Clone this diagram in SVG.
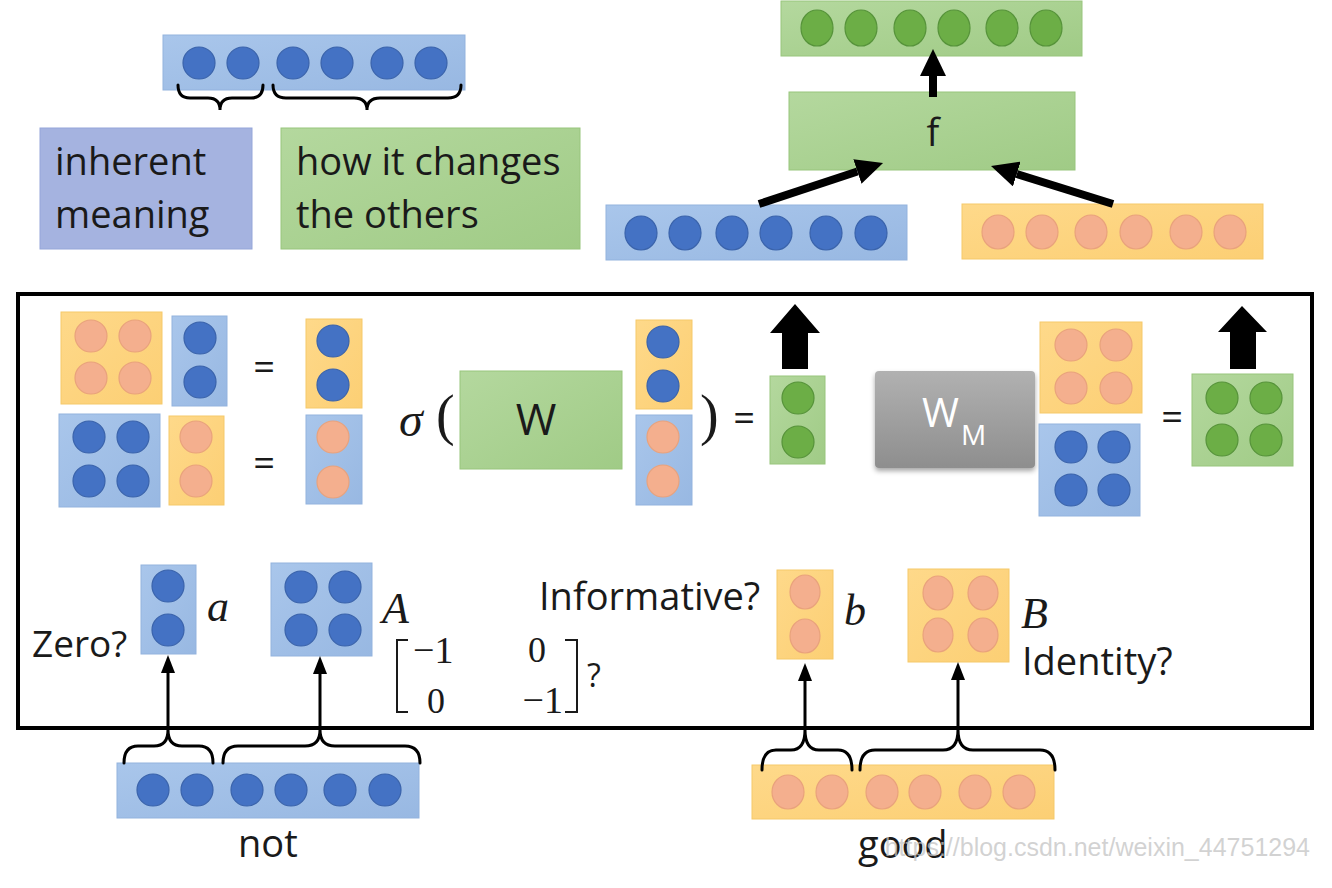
<svg xmlns="http://www.w3.org/2000/svg" width="1332" height="888" viewBox="0 0 1332 888">
<defs>
<linearGradient id="gBlue" x1="0" y1="0" x2="1" y2="1"><stop offset="0" stop-color="#a9c6eb"/><stop offset="1" stop-color="#98b8e2"/></linearGradient>
<linearGradient id="gOrange" x1="0" y1="0" x2="1" y2="1"><stop offset="0" stop-color="#fed98a"/><stop offset="1" stop-color="#fccf74"/></linearGradient>
<linearGradient id="gGreen" x1="0" y1="0" x2="1" y2="1"><stop offset="0" stop-color="#b4d89e"/><stop offset="1" stop-color="#a0cb86"/></linearGradient>
<linearGradient id="gGray" x1="0" y1="0" x2="0" y2="1"><stop offset="0" stop-color="#b1b1b1"/><stop offset="1" stop-color="#8e8e8e"/></linearGradient>
<filter id="shadow" x="-10%" y="-10%" width="125%" height="130%"><feDropShadow dx="0" dy="3" stdDeviation="2.5" flood-color="#000" flood-opacity="0.35"/></filter>
<marker id="ahBig" markerUnits="userSpaceOnUse" markerWidth="28" markerHeight="26" viewBox="0 0 28 26" refX="0" refY="13" orient="auto"><path d="M0,0 L27,13 L0,26 z" fill="#000"/></marker>
<marker id="ahSmall" markerUnits="userSpaceOnUse" markerWidth="18" markerHeight="14" viewBox="0 0 18 14" refX="0" refY="7" orient="auto"><path d="M0,0 L18,7 L0,14 z" fill="#000"/></marker>
</defs>
<style>
.bb{fill:url(#gBlue);stroke:#93b3de;stroke-width:1}
.ob{fill:url(#gOrange);stroke:#f5c96a;stroke-width:1}
.gb{fill:url(#gGreen);stroke:#98c57c;stroke-width:1}
.bc{fill:#4472c4;stroke:#3a63ab;stroke-width:1.2}
.oc{fill:#f4af8e;stroke:#e9a27c;stroke-width:1.2}
.gc{fill:#6cae46;stroke:#56933a;stroke-width:1.2}
.t{font-family:"Open Sans","Liberation Sans",sans-serif;fill:#1a1a1a}
.m{font-family:"Liberation Serif","DejaVu Serif",serif;fill:#1a1a1a}
.brace{fill:none;stroke:#000;stroke-width:3;stroke-linecap:round}
.thin{fill:none;stroke:#000;stroke-width:3}
.thick{fill:none;stroke:#000;stroke-width:8}
</style>
<rect width="1332" height="888" fill="#fff"/>

<!-- top-left vector -->
<g id="vec-word">
<rect class="bb" x="163" y="35" width="302" height="55"/>
<circle class="bc" cx="199" cy="63" r="16"/><circle class="bc" cx="243" cy="63" r="16"/>
<circle class="bc" cx="293" cy="63" r="16"/><circle class="bc" cx="337" cy="63" r="16"/>
<circle class="bc" cx="387" cy="63" r="16"/><circle class="bc" cx="431" cy="63" r="16"/>
</g>
<g id="label-inherent">
<rect x="40" y="128" width="212" height="121" fill="#a5b3e0" stroke="#95a6d9"/>
<text class="t" x="55" y="175" font-size="38">inherent</text>
<text class="t" x="55" y="228" font-size="38">meaning</text>
</g>
<g id="label-changes">
<rect class="gb" x="281" y="128" width="299" height="121"/>
<text class="t" x="296" y="175" font-size="38">how it changes</text>
<text class="t" x="296" y="228" font-size="38">the others</text>
</g>

<!-- top-right composition -->
<g id="vec-out">
<rect class="gb" x="781" y="1" width="301" height="55"/>
<ellipse class="gc" cx="817" cy="28" rx="16" ry="18"/><ellipse class="gc" cx="861" cy="28" rx="16" ry="18"/>
<ellipse class="gc" cx="910" cy="28" rx="16" ry="18"/><ellipse class="gc" cx="954" cy="28" rx="16" ry="18"/>
<ellipse class="gc" cx="1002" cy="28" rx="16" ry="18"/><ellipse class="gc" cx="1046" cy="28" rx="16" ry="18"/>
</g>
<g id="f-box">
<rect class="gb" x="789" y="92" width="286" height="78"/>
<text class="t" x="933" y="146" font-size="38" text-anchor="middle">f</text>
</g>
<g id="vec-blue-in">
<rect class="bb" x="606" y="205" width="301" height="55"/>
<ellipse class="bc" cx="641" cy="233" rx="16" ry="17"/><ellipse class="bc" cx="685" cy="233" rx="16" ry="17"/>
<ellipse class="bc" cx="732" cy="233" rx="16" ry="17"/><ellipse class="bc" cx="776" cy="233" rx="16" ry="17"/>
<ellipse class="bc" cx="826" cy="233" rx="16" ry="17"/><ellipse class="bc" cx="871" cy="233" rx="16" ry="17"/>
</g>
<g id="vec-orange-in">
<rect class="ob" x="962" y="204" width="301" height="55"/>
<ellipse class="oc" cx="998" cy="232" rx="16" ry="17"/><ellipse class="oc" cx="1042" cy="232" rx="16" ry="17"/>
<ellipse class="oc" cx="1091" cy="232" rx="16" ry="17"/><ellipse class="oc" cx="1136" cy="232" rx="16" ry="17"/>
<ellipse class="oc" cx="1186" cy="232" rx="16" ry="17"/><ellipse class="oc" cx="1230" cy="232" rx="16" ry="17"/>
</g>

<!-- frame -->
<g id="frame"><rect x="18" y="294" width="1294" height="434" fill="none" stroke="#000" stroke-width="4"/></g>

<!-- row 1: matrix-vector products -->
<g id="eq1">
<rect class="ob" x="61" y="312" width="101" height="92"/>
<circle class="oc" cx="91" cy="336" r="16"/><circle class="oc" cx="135" cy="336" r="16"/>
<circle class="oc" cx="91" cy="378" r="16"/><circle class="oc" cx="135" cy="378" r="16"/>
<rect class="bb" x="172" y="316" width="55" height="90"/>
<circle class="bc" cx="200" cy="338" r="16"/><circle class="bc" cx="200" cy="382" r="16"/>
<text class="t" x="264" y="380" font-size="38" text-anchor="middle">=</text>
<rect class="ob" x="306" y="319" width="56" height="89"/>
<circle class="bc" cx="333" cy="341" r="16"/><circle class="bc" cx="333" cy="385" r="16"/>
</g>
<g id="eq2">
<rect class="bb" x="59" y="414" width="101" height="93"/>
<circle class="bc" cx="89" cy="437" r="16"/><circle class="bc" cx="133" cy="437" r="16"/>
<circle class="bc" cx="89" cy="481" r="16"/><circle class="bc" cx="133" cy="481" r="16"/>
<rect class="ob" x="169" y="416" width="55" height="89"/>
<circle class="oc" cx="196" cy="437" r="16"/><circle class="oc" cx="196" cy="481" r="16"/>
<text class="t" x="264" y="476" font-size="38" text-anchor="middle">=</text>
<rect class="bb" x="306" y="415" width="56" height="89"/>
<circle class="oc" cx="333" cy="437" r="16"/><circle class="oc" cx="333" cy="482" r="16"/>
</g>

<!-- sigma(W [..]) = -->
<g id="eq-sigma">
<text class="m" x="399" y="436" font-size="48" font-style="italic">σ</text>
<text class="m" x="436" y="434" font-size="56">(</text>
<rect class="gb" x="460" y="371" width="162" height="98"/>
<text class="t" x="536" y="435" font-size="44" text-anchor="middle">W</text>
<rect class="ob" x="636" y="320" width="56" height="89"/>
<circle class="bc" cx="663" cy="342" r="16"/><circle class="bc" cx="663" cy="386" r="16"/>
<rect class="bb" x="636" y="415" width="56" height="90"/>
<circle class="oc" cx="663" cy="437" r="16"/><circle class="oc" cx="663" cy="481" r="16"/>
<text class="m" x="700" y="434" font-size="56">)</text>
<text class="t" x="744" y="431" font-size="38" text-anchor="middle">=</text>
</g>
<g id="out-vec">
<rect class="gb" x="770" y="376" width="55" height="88"/>
<circle class="gc" cx="798" cy="398" r="16"/><circle class="gc" cx="798" cy="442" r="16"/>
</g>

<!-- W_M product -->
<g id="wm-box">
<rect x="875" y="371" width="160" height="97" rx="4" fill="url(#gGray)" filter="url(#shadow)"/>
<text class="t" x="922" y="427" font-size="40" style="fill:#fff">W</text>
<text class="t" x="961" y="445" font-size="28" style="fill:#fff">M</text>
</g>
<g id="eq-wm">
<rect class="ob" x="1040" y="322" width="102" height="91"/>
<circle class="oc" cx="1071" cy="345" r="16"/><circle class="oc" cx="1116" cy="345" r="16"/>
<circle class="oc" cx="1071" cy="388" r="16"/><circle class="oc" cx="1116" cy="388" r="16"/>
<rect class="bb" x="1039" y="424" width="101" height="92"/>
<circle class="bc" cx="1071" cy="447" r="16"/><circle class="bc" cx="1114" cy="447" r="16"/>
<circle class="bc" cx="1071" cy="490" r="16"/><circle class="bc" cx="1114" cy="490" r="16"/>
<text class="t" x="1172" y="430" font-size="38" text-anchor="middle">=</text>
</g>
<g id="out-mat">
<rect class="gb" x="1192" y="374" width="101" height="92"/>
<circle class="gc" cx="1222" cy="398" r="16"/><circle class="gc" cx="1266" cy="398" r="16"/>
<circle class="gc" cx="1222" cy="440" r="16"/><circle class="gc" cx="1266" cy="440" r="16"/>
</g>

<!-- bottom: not -->
<g id="vec-a">
<rect class="bb" x="141" y="565" width="55" height="89"/>
<circle class="bc" cx="168" cy="586" r="16"/><circle class="bc" cx="168" cy="630" r="16"/>
<text class="t" x="32" y="657" font-size="37">Zero?</text>
<text class="m" x="207" y="621" font-size="44" font-style="italic">a</text>
</g>
<g id="mat-A">
<rect class="bb" x="271" y="563" width="101" height="93"/>
<circle class="bc" cx="301" cy="587" r="16"/><circle class="bc" cx="345" cy="587" r="16"/>
<circle class="bc" cx="301" cy="630" r="16"/><circle class="bc" cx="345" cy="630" r="16"/>
<text class="m" x="382" y="623" font-size="44" font-style="italic">A</text>
</g>
<g id="matrix-neg">
<path d="M408,640 L397,640 L397,712 L408,712" fill="none" stroke="#1a1a1a" stroke-width="2"/>
<path d="M565,640 L577,640 L577,712 L565,712" fill="none" stroke="#1a1a1a" stroke-width="2"/>
<text class="m" x="413" y="663" font-size="38">−1</text>
<text class="m" x="528" y="662" font-size="36">0</text>
<text class="m" x="427" y="713" font-size="36">0</text>
<text class="m" x="563" y="713" font-size="38" text-anchor="end">−1</text>
<text class="t" x="587" y="687" font-size="32">?</text>
</g>
<g id="vec-not">
<rect class="bb" x="117" y="763" width="302" height="55"/>
<circle class="bc" cx="153" cy="790" r="16"/><circle class="bc" cx="197" cy="790" r="16"/>
<circle class="bc" cx="247" cy="790" r="16"/><circle class="bc" cx="291" cy="790" r="16"/>
<circle class="bc" cx="340" cy="790" r="16"/><circle class="bc" cx="385" cy="790" r="16"/>
<text class="t" x="238" y="857" font-size="38">not</text>
</g>

<!-- bottom: good -->
<g id="vec-b">
<text class="t" x="539" y="610" font-size="38">Informative?</text>
<rect class="ob" x="777" y="570" width="56" height="89"/>
<ellipse class="oc" cx="805" cy="592" rx="15" ry="17"/><ellipse class="oc" cx="805" cy="636" rx="15" ry="17"/>
<text class="m" x="844" y="625" font-size="44" font-style="italic">b</text>
</g>
<g id="mat-B">
<rect class="ob" x="908" y="569" width="101" height="93"/>
<ellipse class="oc" cx="938" cy="593" rx="15" ry="17"/><ellipse class="oc" cx="983" cy="593" rx="15" ry="17"/>
<ellipse class="oc" cx="938" cy="635" rx="15" ry="17"/><ellipse class="oc" cx="983" cy="635" rx="15" ry="17"/>
<text class="m" x="1021" y="628" font-size="44" font-style="italic">B</text>
<text class="t" x="1022" y="675" font-size="38">Identity?</text>
</g>
<g id="vec-good">
<rect class="ob" x="752" y="765" width="302" height="54"/>
<ellipse class="oc" cx="788" cy="792" rx="16" ry="17"/><ellipse class="oc" cx="832" cy="792" rx="16" ry="17"/>
<ellipse class="oc" cx="882" cy="792" rx="16" ry="17"/><ellipse class="oc" cx="925" cy="792" rx="16" ry="17"/>
<ellipse class="oc" cx="975" cy="792" rx="16" ry="17"/><ellipse class="oc" cx="1019" cy="792" rx="16" ry="17"/>
<text class="t" x="858" y="858" font-size="38">good</text>
</g>

<!-- connectors: braces and arrows -->
<g id="connectors">
<path class="brace" d="M178,85 Q178,98 190,98 L208,98 Q220,98 220,110 Q220,98 232,98 L251,98 Q263,98 263,85"/>
<path class="brace" d="M273,85 Q273,98 286,98 L354,98 Q367,98 367,110 Q367,98 380,98 L448,98 Q461,98 461,85"/>
<line class="thick" x1="933" y1="97" x2="933" y2="76" marker-end="url(#ahBig)"/>
<line class="thick" x1="759" y1="204" x2="857.4" y2="171.5" marker-end="url(#ahBig)"/>
<line class="thick" x1="1113" y1="204" x2="1016.8" y2="174" marker-end="url(#ahBig)"/>
<polygon points="782,369 808,369 808,333 820,333 795,304 770,333 782,333" fill="#000"/>
<polygon points="1230,369 1256,369 1256,332 1267,332 1242,306 1218,332 1230,332" fill="#000"/>
<path class="brace" d="M124,763 Q124,746 138,746 L154,746 Q168,746 168,730 Q168,746 182,746 L199,746 Q213,746 213,763"/>
<path class="brace" d="M223,763 Q223,746 238,746 L305,746 Q320,746 320,730 Q320,746 335,746 L405,746 Q420,746 420,763"/>
<path class="brace" d="M762,770 Q762,750 776,750 L791,750 Q805,750 805,730 Q805,750 819,750 L838,750 Q852,750 852,770"/>
<path class="brace" d="M860,770 Q860,750 875,750 L943,750 Q958,750 958,730 Q958,750 973,750 L1040,750 Q1055,750 1055,770"/>
<line class="thin" x1="168" y1="730" x2="168" y2="673" marker-end="url(#ahSmall)"/>
<line class="thin" x1="320" y1="730" x2="320" y2="674" marker-end="url(#ahSmall)"/>
<line class="thin" x1="805" y1="730" x2="805" y2="681" marker-end="url(#ahSmall)"/>
<line class="thin" x1="958" y1="730" x2="958" y2="680" marker-end="url(#ahSmall)"/>
</g>

<text x="1310" y="856" font-family="Liberation Sans, Arial, sans-serif" font-size="25" text-anchor="end" fill="#c4c4c4" fill-opacity="0.75">https://blog.csdn.net/weixin_44751294</text>
</svg>
